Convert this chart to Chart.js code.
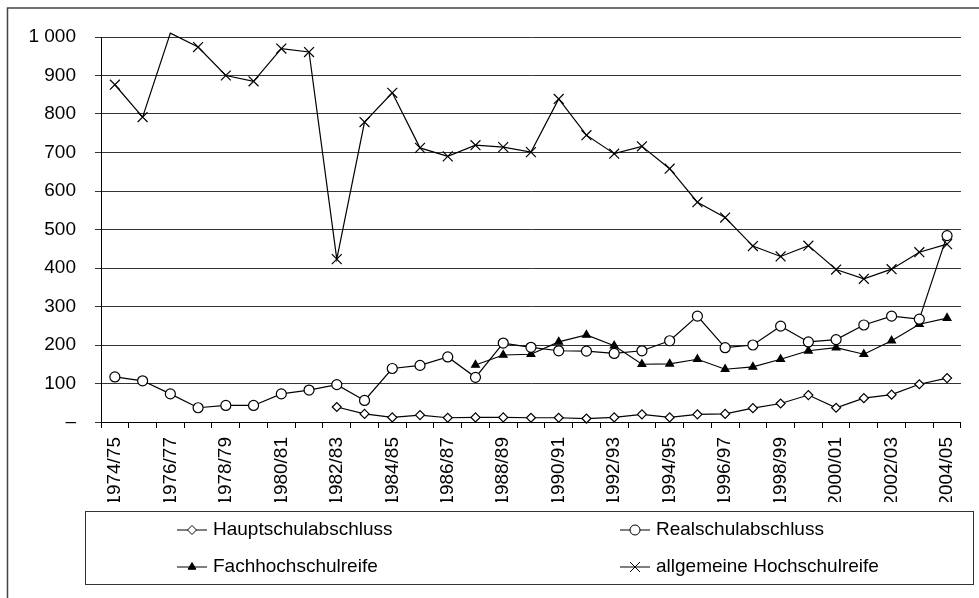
<!DOCTYPE html>
<html>
<head>
<meta charset="utf-8">
<script src="https://cdn.jsdelivr.net/npm/chart.js@4"></script>
<style>
	html, body { margin: 0; padding: 0; background: #fff; }
	#wrap { position: relative; width: 979px; height: 598px; }
</style>
</head>
<body>
<div id="wrap"><canvas id="chart" width="979" height="598"></canvas></div>
<script>
const years = [
	"1974/75", "1975/76", "1976/77", "1977/78", "1978/79", "1979/80", "1980/81", "1981/82",
	"1982/83", "1983/84", "1984/85", "1985/86", "1986/87", "1987/88", "1988/89", "1989/90",
	"1990/91", "1991/92", "1992/93", "1993/94", "1994/95", "1995/96", "1996/97", "1997/98",
	"1998/99", "1999/00", "2000/01", "2001/02", "2002/03", "2003/04", "2004/05",
];

const hauptschule = [
	null, null, null, null, null, null, null, null,
	39, 21, 12, 18, 11, 12, 12, 11, 11, 9, 12, 20, 12, 20, 21, 36, 48, 70, 37, 62, 71, 98, 114,
];
const realschule = [
	117, 107, 73, 37, 43, 43, 73, 83, 97, 56, 139, 147, 169, 116, 205, 194,
	185, 184, 178, 185, 211, 275, 193, 200, 249, 208, 214, 252, 275, 267, 484,
];
const fachhochschule = [
	null, null, null, null, null, null, null, null, null, null, null, null, null,
	148, 174, 176, 208, 226, 198, 150, 151, 163, 137, 143, 163, 185, 193, 176, 211, 254, 270,
];
const hochschule = [
	876, 792, 1010, 974, 900, 885, 970, 961, 423, 779, 855, 712, 690, 719, 714, 701,
	839, 745, 697, 716, 658, 571, 531, 457, 430, 458, 396, 372, 397, 441, 462,
];

const yTicks = { min: 0, max: 1000, step: 100 };

const FONT = "'Liberation Sans', Arial, sans-serif";
const FONT_SIZE = 19;

const series = [
	{ label: "Hauptschulabschluss", data: hauptschule, pointStyle: "rectRot", radius: 4.5, fill: "#fff" },
	{ label: "Realschulabschluss", data: realschule, pointStyle: "circle", radius: 5, fill: "#fff" },
	{ label: "Fachhochschulreife", data: fachhochschule, pointStyle: "triangle", radius: 4.5, fill: "#000" },
	{ label: "allgemeine Hochschulreife", data: hochschule, pointStyle: "crossRot", radius: 7, fill: "#000" },
];

// frame round the whole chart and the boxed legend under it
const framePlugin = {
	id: "frame",
	beforeDraw(chart) {
		const ctx = chart.ctx;
		ctx.save();
		ctx.strokeStyle = "#444";
		ctx.lineWidth = 1.5;
		ctx.strokeRect(7.5, 8, 1100, 1100);
		ctx.restore();
	},
	afterDraw(chart) {
		const ctx = chart.ctx;
		ctx.save();
		ctx.strokeStyle = "#333";
		ctx.lineWidth = 1;
		ctx.strokeRect(85.5, 511.5, 888, 73);

		const cols = [177, 620];
		const rows = [530, 567];
		series.forEach((s, i) => {
			const x = cols[i % 2];
			const y = rows[Math.floor(i / 2)];
			ctx.strokeStyle = "#000";
			ctx.lineWidth = 1;
			ctx.beginPath();
			ctx.moveTo(x, y);
			ctx.lineTo(x + 30, y);
			ctx.stroke();
			ctx.fillStyle = s.fill;
			Chart.helpers.drawPoint(ctx, {
				pointStyle: s.pointStyle,
				radius: s.radius,
				borderWidth: 1,
				rotation: 0,
			}, x + 15, y);
			ctx.fillStyle = "#000";
			ctx.font = FONT_SIZE + "px " + FONT;
			ctx.textBaseline = "middle";
			ctx.textAlign = "left";
			ctx.fillText(s.label, x + 36, y);
		});
		ctx.restore();
	},
};

new Chart(document.getElementById("chart"), {
	type: "line",
	data: {
		labels: years,
		datasets: series.map((s) => ({
			label: s.label,
			data: s.data,
			borderColor: "#000",
			borderWidth: 1.2,
			tension: 0,
			fill: false,
			clip: false,
			pointStyle: s.pointStyle,
			pointRadius: (c) => (c.raw > yTicks.max ? 0 : s.radius),
			pointHoverRadius: s.radius,
			pointBorderWidth: 1.2,
			pointBorderColor: "#000",
			pointBackgroundColor: s.fill,
		})),
	},
	options: {
		responsive: false,
		animation: false,
		events: [],
		layout: {
			padding: { top: 37, left: 0, right: 6, bottom: 96 },
		},
		plugins: {
			legend: { display: false },
			tooltip: { enabled: false },
		},
		scales: {
			x: {
				offset: true,
				afterFit(scale) {
					scale.height = 80;
				},
				border: { color: "#000", width: 1 },
				grid: {
					offset: true,
					drawOnChartArea: false,
					drawTicks: true,
					tickLength: 6,
					color: "#000",
				},
				ticks: {
					autoSkip: false,
					maxRotation: 90,
					minRotation: 90,
					padding: 9,
					color: "#000",
					font: { family: FONT, size: FONT_SIZE },
					callback(value, index) {
						return index % 2 === 0 ? years[index] : "";
					},
				},
			},
			y: {
				min: yTicks.min,
				max: yTicks.max,
				afterFit(scale) {
					scale.width = 101;
				},
				border: { color: "#000", width: 1 },
				grid: {
					color: "#333",
					lineWidth: 1,
					tickLength: 6,
				},
				ticks: {
					stepSize: yTicks.step,
					padding: 19,
					color: "#000",
					font: { family: FONT, size: FONT_SIZE },
					callback(value) {
						if (value === 0) return "–";
						if (value >= 1000) return "1 000";
						return String(value);
					},
				},
			},
		},
	},
	plugins: [framePlugin],
});
</script>
</body>
</html>
